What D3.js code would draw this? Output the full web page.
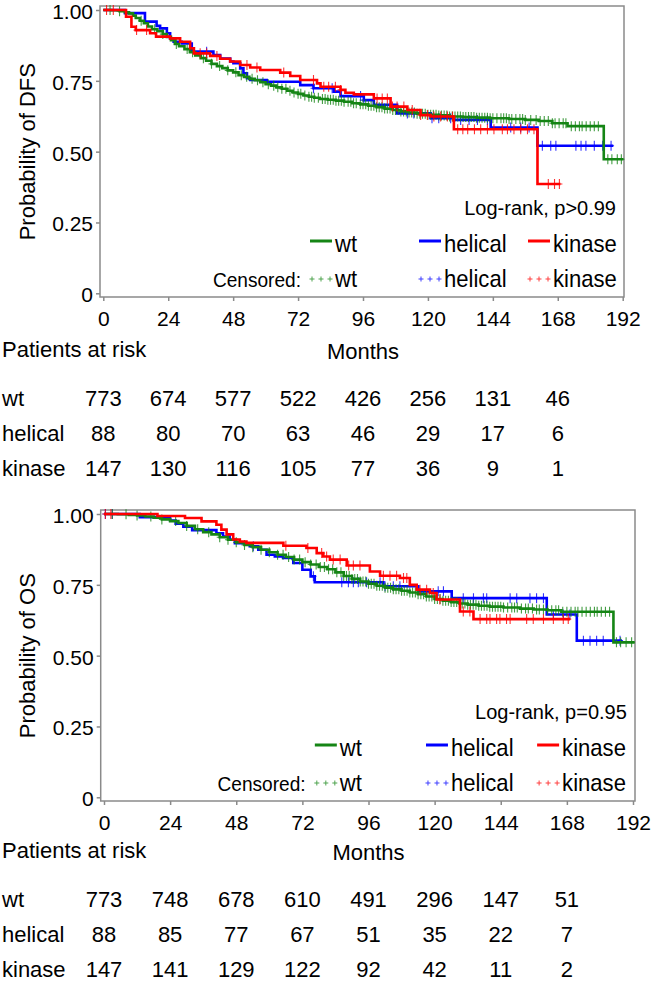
<!DOCTYPE html>
<html><head><meta charset="utf-8">
<script src="https://cdn.jsdelivr.net/npm/d3@7"></script>
<style>body{margin:0;background:#fff} svg{display:block}</style>
</head><body><svg id="c" width="653" height="982"></svg>
<script>
// ---------- axis ticks & risk table ----------
const xTicks = [0,24,48,72,96,120,144,168,192];
const yTicks = [0,0.25,0.5,0.75,1];
const yTickLabels = ["0","0.25","0.50","0.75","1.00"];
const riskTimes = [0,24,48,72,96,120,144,168];
const groups = ["wt","helical","kinase"];
const dfsRiskWt = [773,674,577,522,426,256,131,46];
const dfsRiskHel = [88,80,70,63,46,29,17,6];
const dfsRiskKin = [147,130,116,105,77,36,9,1];
const osRiskWt = [773,748,678,610,491,296,147,51];
const osRiskHel = [88,85,77,67,51,35,22,7];
const osRiskKin = [147,141,129,122,92,42,11,2];

// ---------- DFS (top) ----------
const dfsWtT = [0,3,6,8,9.5,11,12,13.5,15,16.5,18,20,22,23.5,25,26.5,28,30,32,34,36,38,40,42,44,46,48,50,52,54,56,58,60,62,64,66,68,70,72,74,76,78,80,83,86,89,92,95,98,101,104,107,110,113,116,120,124,128,133,138,143,150,156,161,166,171.6,185];
const dfsWtS = [1,0.999,0.996,0.992,0.988,0.980,0.972,0.962,0.953,0.942,0.932,0.925,0.915,0.905,0.893,0.880,0.872,0.862,0.851,0.840,0.830,0.821,0.810,0.802,0.795,0.787,0.780,0.770,0.764,0.757,0.752,0.745,0.738,0.733,0.727,0.722,0.715,0.709,0.704,0.698,0.694,0.690,0.686,0.683,0.680,0.676,0.671,0.667,0.662,0.657,0.652,0.647,0.642,0.638,0.634,0.630,0.628,0.624,0.622,0.620,0.618,0.615,0.612,0.608,0.600,0.590,0.473];
const dfsWtEnd = 192.3;
const dfsWtCens = [2.5,6,14,19,22,27,31,33,37,40,43,46,49,51,53,55,57,59,61,63,64.5,66,67.5,69,70.5,72,73,74.5,76,77,78,79.5,81,82,83,84,85,86,87,88,89,90.5,91.5,92.5,93.5,95,96,97,98,99,100,101,102,103,104,105,106,107,108,109,110,111,112,113,114,115,116,117,118,119,120,121,122,123,124,125,126,127,128,129,130,131,132,133,134,135,136,137,138,139,140,141,142,143,144,145.5,147,148,149,150,151,152.5,154,155,156,158,160,161.5,163,164.5,166,167,168.5,170,171,173,174.5,176,177,178.5,180,181.5,183,186.5,188,190,191.5];

const dfsHelT = [0,8,15.4,19.7,21,23.5,24.7,26,29,32.7,40.7,43.2,46.9,48.1,50.6,51.8,53.1,54.3,60.4,72.8,77.7,85.2,87.7,96.3,100,108.6,121,129.6,143.2,160.5];
const dfsHelS = [1,0.989,0.959,0.944,0.935,0.918,0.900,0.888,0.882,0.853,0.841,0.829,0.818,0.812,0.794,0.777,0.759,0.753,0.747,0.735,0.724,0.712,0.696,0.682,0.665,0.635,0.618,0.612,0.585,0.521];
const dfsHelEnd = 188.5;
const dfsHelCens = [38.2,77.7,84.6,95.1,96.3,112.4,114.8,121.5,124,128.4,132.1,135.2,138.3,142,150.6,154.3,157.4,162.3,165.4,167.3,174.7,176.6,178.4,181.5,184.6,187.7];

const dfsKinT = [0,8.4,10.4,12,17.3,19.5,24.7,28.4,32.1,33.5,39.5,43.2,46.9,50.6,54.3,58,65.4,69.1,72.8,79,80.3,87.7,89.5,92.6,100,106.2,112.4,117.3,121,129.6,160.5];
const dfsKinS = [1,0.976,0.941,0.929,0.918,0.906,0.900,0.888,0.865,0.847,0.838,0.828,0.818,0.806,0.797,0.788,0.779,0.767,0.753,0.741,0.729,0.718,0.708,0.702,0.688,0.659,0.647,0.629,0.624,0.579,0.386];
const dfsKinEnd = 169;
const dfsKinCens = [1.2,3.7,12.3,16,35.8,38.2,42,53.1,56.8,66.7,77.7,81.5,83.3,85.8,87.7,101.2,103.1,105,106.9,108.6,111.1,114.2,117.3,119.8,122.2,124.7,127.2,129.1,131,132.9,134.7,137.2,139.5,142,144.4,147.5,149.4,151.8,154.3,156.8,159.2,164.5,166.8,168.6];

// ---------- OS (bottom) ----------
const osWtT = [0,5,9,12,15,18,21,24,27,30,33,36,39,42,45,48,51,54,57,60,63,66,69,72,75,78,81,84,87,90,93,96,99,102,105,108,111,114,117,120,123,126,129,132,136,140,145,151,156,161,166,184.9];
const osWtS = [1,0.999,0.997,0.995,0.991,0.987,0.981,0.975,0.968,0.958,0.946,0.936,0.928,0.918,0.909,0.900,0.891,0.883,0.874,0.865,0.856,0.848,0.839,0.830,0.822,0.813,0.805,0.794,0.781,0.771,0.762,0.754,0.747,0.740,0.734,0.729,0.723,0.717,0.709,0.700,0.694,0.689,0.684,0.680,0.676,0.673,0.670,0.666,0.663,0.660,0.655,0.547];
const osWtEnd = 192.6;
const osWtCens = [3,8,12,17,21,26,30,34,38,42,45,48,51,54,57,60,63,65,67,69,71,73,75,77,78.5,80,81.5,83,84.5,86,87,88,89,90,91,92,93,94,95,96,97,98,99,100,101,102,103,104,105,106,107,108,109,110,111,112,113,114,115,116,117,118,119,120,121,122,123,124,125,126,127,128,129,130,131,132,133,134,135,136,137,138,139,140,141,142,143,144,145,146.5,148,149,150,151.5,153,154,155.5,157,158,159.5,161,162.5,164,165,166.5,168,169.5,171,172,173.5,175,176.5,178,179,180.5,182,183.5,186,187.5,189.5,191.5];

const osHelT = [0,13,24,26,28.8,32,40.8,43.2,45.6,47.5,52.9,56,59,62,65,68.7,72,75,76.5,101.4,114.1,126.2,160.7,171.6];
const osHelS = [1,0.989,0.977,0.966,0.955,0.943,0.932,0.920,0.909,0.897,0.886,0.874,0.856,0.850,0.845,0.827,0.803,0.780,0.759,0.745,0.727,0.703,0.645,0.553];
const osHelEnd = 188;
const osHelCens = [0.5,3,54.2,76,86.3,88.7,90.5,92.3,95.3,100.2,102,105,107.4,121.3,123.2,130.4,134.1,137.7,138.9,147.4,149.8,154.6,157,159.5,163.1,166.7,169.1,174,176.4,178.8,181.2,187.3];

const osKinT = [0,19.4,29.4,35.4,40.8,42.6,44.5,46.9,49.3,51.7,65.1,73.5,77.2,79.6,82,88.1,96.5,100.2,107.4,111,113.5,118.3,120.7,129.2,134.1];
const osKinS = [1,0.993,0.986,0.974,0.962,0.945,0.928,0.910,0.903,0.898,0.888,0.880,0.862,0.850,0.839,0.818,0.797,0.782,0.774,0.750,0.733,0.721,0.698,0.656,0.629];
const osKinEnd = 169.2;
const osKinCens = [0.5,2.5,66,74,79,80.8,83.2,85.7,88.8,90.5,92.9,101.4,103.8,106.2,108.7,109.9,114.7,117.1,119.5,121.9,130.4,132.8,136.5,138.9,140.1,142.5,143.7,146.1,147.4,153.4,155.8,159.5,163.1,166.7,168.5];

// ---------- drawing ----------
const FONT = '"Liberation Sans", Arial, Helvetica, sans-serif';
const colors = {wt:"#158515", helical:"#0000ff", kinase:"#ff0000"};
const AX = "#8a8a8a";

const panels = [
  {dy:0, riskDy:0, x0:103.3, x1:622.7, boxL:100, boxR:624, title:"Probability of DFS", logrank:"Log-rank, p>0.99",
   curves:{wt:{t:dfsWtT,s:dfsWtS,end:dfsWtEnd,cens:dfsWtCens}, helical:{t:dfsHelT,s:dfsHelS,end:dfsHelEnd,cens:dfsHelCens}, kinase:{t:dfsKinT,s:dfsKinS,end:dfsKinEnd,cens:dfsKinCens}},
   risk:{wt:dfsRiskWt, helical:dfsRiskHel, kinase:dfsRiskKin}},
  {dy:504, riskDy:501, x0:104, x1:633, boxL:100.7, boxR:635, title:"Probability of OS", logrank:"Log-rank, p=0.95",
   curves:{wt:{t:osWtT,s:osWtS,end:osWtEnd,cens:osWtCens}, helical:{t:osHelT,s:osHelS,end:osHelEnd,cens:osHelCens}, kinase:{t:osKinT,s:osKinS,end:osKinEnd,cens:osKinCens}},
   risk:{wt:osRiskWt, helical:osRiskHel, kinase:osRiskKin}}
];

const svg = d3.select("#c");

panels.forEach(p => {
  const dy = p.dy;
  const g = svg.append("g");
  const x = d3.scaleLinear().domain([0,192]).range([p.x0, p.x1]);
  const y = d3.scaleLinear().domain([0,1]).range([293.3+dy, 10+dy]);
  const bx = px => p.boxL + (px-100)*(p.boxR-p.boxL)/524;

  // plot box
  g.append("rect").attr("x",p.boxL).attr("y",6+dy).attr("width",p.boxR-p.boxL).attr("height",291)
    .attr("fill","none").attr("stroke",AX).attr("stroke-width",1.5);

  // y axis
  const ya = g.append("g").attr("transform",`translate(${p.boxL},0)`)
    .call(d3.axisLeft(y).tickValues(yTicks).tickFormat((d,i)=>yTickLabels[i]).tickSize(4).tickPadding(3));
  ya.select(".domain").remove();
  ya.selectAll("line").attr("stroke",AX).attr("stroke-width",1.5);
  ya.selectAll("text").attr("font-size",21).attr("font-family",FONT).attr("fill","#000").attr("dy","0.4em");

  // x axis
  const xa = g.append("g").attr("transform",`translate(0,${297+dy})`)
    .call(d3.axisBottom(x).tickValues(xTicks).tickSize(4).tickPadding(10));
  xa.select(".domain").remove();
  xa.selectAll("line").attr("stroke",AX).attr("stroke-width",1.5);
  xa.selectAll("text").attr("font-size",21).attr("font-family",FONT).attr("fill","#000");

  // y title
  g.append("text").attr("transform",`translate(27,${151.7+dy}) rotate(-90)`)
    .attr("text-anchor","middle").attr("dominant-baseline","central")
    .attr("font-size",22).attr("font-family",FONT).text(p.title);

  // curves
  const line = d3.line().x(d=>x(d[0])).y(d=>y(d[1])).curve(d3.curveStepAfter);
  ["helical","wt","kinase"].forEach(k => {
    const c = p.curves[k];
    const pts = c.t.map((t,i)=>[t,c.s[i]]);
    pts.push([c.end, c.s[c.s.length-1]]);
    g.append("path").attr("d",line(pts)).attr("fill","none").attr("stroke",colors[k])
      .attr("stroke-width",2.6).attr("stroke-linejoin","miter");
    const cg = g.append("g").attr("stroke",colors[k]).attr("stroke-width",1.1).attr("opacity",0.8);
    c.cens.forEach(t => {
      const i = d3.bisectRight(c.t,t)-1;
      const cx = x(t), cy = y(c.s[i]);
      cg.append("path").attr("d",`M${cx-3},${cy}H${cx+3}M${cx},${cy-5}V${cy+5}`);
    });
  });

  // log-rank
  g.append("text").attr("x",bx(616)).attr("y",215+dy).attr("text-anchor","end")
    .attr("font-size",20).attr("font-family",FONT).attr("xml:space","preserve").text(p.logrank);

  // legend
  const legX = {wt:310, helical:419, kinase:528};
  groups.forEach(k => {
    const lx = bx(legX[k]);
    g.append("line").attr("x1",lx).attr("x2",lx+22).attr("y1",241+dy).attr("y2",241+dy)
      .attr("stroke",colors[k]).attr("stroke-width",3);
    g.append("text").attr("transform",`translate(${lx+25},${252+dy}) scale(0.92,1)`)
      .attr("font-size",24).attr("font-family",FONT).text(k);
    [2,11,20].forEach(o => {
      const px = lx+o, py = 279+dy;
      g.append("path").attr("d",`M${px-2.5},${py}H${px+2.5}M${px},${py-2.5}V${py+2.5}`)
        .attr("stroke",colors[k]).attr("stroke-width",1).attr("opacity",0.75);
    });
    g.append("text").attr("transform",`translate(${lx+25},${287+dy}) scale(0.92,1)`)
      .attr("font-size",24).attr("font-family",FONT).text(k);
  });
  g.append("text").attr("transform",`translate(${bx(301)},${287+dy}) scale(0.91,1)`)
    .attr("text-anchor","end").attr("font-size",21).attr("font-family",FONT).text("Censored:");

  // risk table
  const rdy = p.riskDy;
  g.append("text").attr("x",2).attr("y",357+rdy).attr("font-size",22).attr("font-family",FONT).text("Patients at risk");
  g.append("text").attr("x",x(96)).attr("y",359+rdy).attr("text-anchor","middle").attr("font-size",22).attr("font-family",FONT).text("Months");
  groups.forEach((k,r) => {
    const by = 406 + r*35 + rdy;
    g.append("text").attr("x",2).attr("y",by).attr("font-size",22).attr("font-family",FONT).text(k);
    p.risk[k].forEach((n,i) => {
      g.append("text").attr("x",x(riskTimes[i])).attr("y",by).attr("text-anchor","middle")
        .attr("font-size",22).attr("font-family",FONT).text(n);
    });
  });
});
</script></body></html>
